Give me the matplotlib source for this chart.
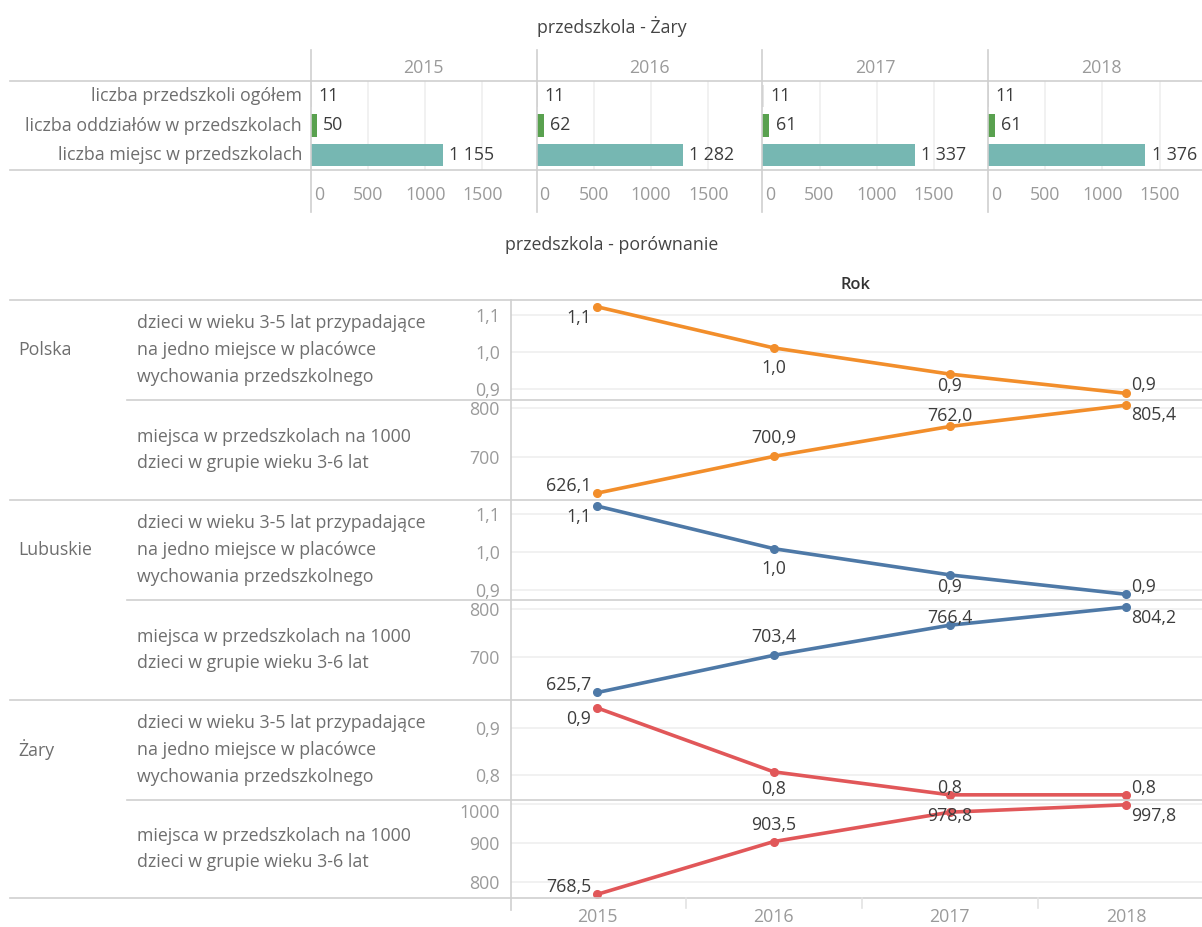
import matplotlib
matplotlib.use('Agg')
import matplotlib.pyplot as plt
from matplotlib.lines import Line2D
from matplotlib.transforms import blended_transform_factory

plt.rcParams['font.family'] = ['Open Sans', 'DejaVu Sans']

# ---- data ----
years = ['2015', '2016', '2017', '2018']

# przedszkola - Żary
bar_labels = ['liczba przedszkoli ogółem',
              'liczba oddziałów w przedszkolach',
              'liczba miejsc w przedszkolach']
przedszkola = [11, 11, 11, 11]
oddzialy = [50, 62, 61, 61]
miejsca = [1155, 1282, 1337, 1376]
bar_ticks = [0, 500, 1000, 1500]

# przedszkola - porównanie
regions = ['Polska', 'Lubuskie', 'Żary']
measure_labels = ['dzieci w wieku 3-5 lat przypadające\nna jedno miejsce w placówce\nwychowania przedszkolnego',
                  'miejsca w przedszkolach na 1000\ndzieci w grupie wieku 3-6 lat']
polska_ratio = [1.122, 1.011, 0.940, 0.888]
polska_places = [626.1, 700.9, 762.0, 805.4]
lubuskie_ratio = [1.121, 1.009, 0.940, 0.889]
lubuskie_places = [625.7, 703.4, 766.4, 804.2]
zary_ratio = [0.943, 0.807, 0.758, 0.758]
zary_places = [768.5, 903.5, 978.8, 997.8]

ratio_ticks = [[0.9, 1.0, 1.1], [0.9, 1.0, 1.1], [0.8, 0.9]]
places_ticks = [[700, 800], [700, 800], [800, 900, 1000]]

# ---- styling ----
W, H = 1202, 927
FS = 12.8
SEP = '#cfcfcf'
GRID = '#efefef'
TICK = '#9a9a9a'
LAB = '#6e6e6e'
VAL = '#3c3c3c'
bar_colors = ['#e4e4e4', '#59a14f', '#76b7b2']
line_colors = ['#f28e2b', '#4e79a7', '#e15759']


def fmt1(v):
    return f'{v:.1f}'.replace('.', ',')


def fmt_int(v):
    return f'{v:,}'.replace(',', ' ')


fig = plt.figure(figsize=(W / 100, H / 100), dpi=100)


def fx(x):
    return x / W


def fy(y):
    return 1 - y / H


def add_ax(x0, y0, x1, y1):
    return fig.add_axes([fx(x0), fy(y1), fx(x1) - fx(x0), fy(y0) - fy(y1)])


def hline(y, x0, x1, color=SEP):
    fig.add_artist(Line2D([fx(x0), fx(x1)], [fy(y), fy(y)], color=color, lw=1.2,
                          transform=fig.transFigure, zorder=5))


def vline(x, y0, y1, color=SEP):
    fig.add_artist(Line2D([fx(x), fx(x)], [fy(y0), fy(y1)], color=color, lw=1.2,
                          transform=fig.transFigure, zorder=5))


def ftext(x, y, s, **kw):
    kw.setdefault('va', 'center')
    kw.setdefault('fontsize', FS)
    fig.text(fx(x), fy(y), s, **kw)


# ================= top: przedszkola - Żary =================
ftext(612, 27, 'przedszkola - Żary', ha='center', color='#444444')

pw = 225.7
for i, yr in enumerate(years):
    x0 = 311 + i * pw
    ax = add_ax(x0, 81, x0 + pw, 170)
    vals = [przedszkola[i], oddzialy[i], miejsca[i]]
    ax.barh(range(3), vals, height=0.75, color=bar_colors, zorder=2)
    ax.set_ylim(2.5, -0.5)
    ax.set_xlim(0, 1975)
    ax.axis('off')
    for t in bar_ticks[1:]:
        ax.axvline(t, color=GRID, lw=1.2, zorder=0)
    for j, v in enumerate(vals):
        ax.annotate(fmt_int(v), (v, j), xytext=(4.5, 0), textcoords='offset points',
                    va='center', ha='left', fontsize=FS, color=VAL)
    tr = blended_transform_factory(ax.transData, ax.transAxes)
    for t in bar_ticks:
        if t == 0:
            ax.annotate('0', (0, -25 / 89), xycoords=tr, xytext=(2, 0), textcoords='offset points',
                        ha='left', va='center', fontsize=FS, color=TICK)
        else:
            ax.text(t, -25 / 89, str(t), transform=tr, ha='center', va='center',
                    fontsize=FS, color=TICK)
    ftext(x0 + pw / 2, 68, yr, ha='center', color=TICK)
    vline(x0, 50, 212)

for j, lab in enumerate(bar_labels):
    ftext(302, 96 + j * 29.7, lab, ha='right', color=LAB)
hline(81, 10, W)
hline(170, 10, W)

# ================= bottom: przedszkola - porównanie =================
ftext(612, 245, 'przedszkola - porównanie', ha='center', color='#444444')
ftext(856, 285, 'Rok', ha='center', color='#333333', fontsize=FS - 1, fontweight='semibold')

series = [polska_ratio, polska_places, lubuskie_ratio, lubuskie_places, zary_ratio, zary_places]
panes = [(300, 400), (400, 500), (500, 600), (600, 700), (700, 800), (800, 898)]
ylims = [(0.870, 1.1405), (612, 816), (0.874, 1.137), (610, 819), (0.747, 0.96), (759, 1010)]
yticks = [ratio_ticks[0], places_ticks[0], ratio_ticks[1], places_ticks[1], ratio_ticks[2], places_ticks[2]]

# label placement per point: (dx px, dy px downward, ha)
offsets = [
    [(-6, 11, 'right'), (0, 20, 'center'), (0, 12, 'center'), (5, -8, 'left')],
    [(-6, -7, 'right'), (0, -18, 'center'), (0, -10, 'center'), (5, 10, 'left')],
    [(-6, 11, 'right'), (0, 20, 'center'), (0, 12, 'center'), (5, -7, 'left')],
    [(-6, -7, 'right'), (0, -18, 'center'), (0, -7, 'center'), (5, 11, 'left')],
    [(-6, 11, 'right'), (0, 17, 'center'), (0, -7, 'center'), (5, -7, 'left')],
    [(-6, -7, 'right'), (0, -17, 'center'), (0, 4, 'center'), (5, 11, 'left')],
]

xs = list(range(len(years)))
for k, (vals, (y0, y1)) in enumerate(zip(series, panes)):
    ax = add_ax(511, y0, W, y1)
    col = line_colors[k // 2]
    ax.plot(xs, vals, color=col, lw=2.6, marker='o', ms=5.5, zorder=3)
    ax.set_xlim(-0.49, 3.43)
    ax.set_ylim(*ylims[k])
    ax.set_yticks(yticks[k])
    if k % 2 == 0:
        ax.set_yticklabels([fmt1(t) for t in yticks[k]])
    else:
        ax.set_yticklabels([str(t) for t in yticks[k]])
    ax.tick_params(axis='y', length=0, pad=8, labelcolor=TICK, labelsize=FS)
    ax.set_xticks([])
    for s in ax.spines.values():
        s.set_visible(False)
    ax.yaxis.grid(True, color=GRID, lw=1.2)
    ax.set_axisbelow(True)
    ax.patch.set_alpha(0)
    if yticks[k][-1] == 1000:
        # top tick label sits just under the pane border, as in the original
        ax.get_yticklabels()[-1].set_verticalalignment('top')
    for x, v, (dx, dy, ha) in zip(xs, vals, offsets[k]):
        ax.annotate(fmt1(v), (x, v), xytext=(dx * 0.72, -dy * 0.72), textcoords='offset points',
                    ha=ha, va='center', fontsize=FS, color=VAL, zorder=4)
    # measure label
    ftext(137, (y0 + y1) / 2, measure_labels[k % 2], ha='left', color=LAB, linespacing=1.62)

for r, reg in enumerate(regions):
    ftext(18, 350 + r * 200, reg, ha='left', color=LAB)

# separators
hline(300, 10, W)
for y in [400, 600, 800]:
    hline(y, 127, W)
for y in [500, 700, 898]:
    hline(y, 10, W)
vline(511, 300, 910)
for xb in [686, 862, 1038]:
    vline(xb, 898, 908, color='#e3e3e3')
for i, yr in enumerate(years):
    ftext(597 + i * 176.4, 917, yr, ha='center', color=TICK)

fig.savefig('out.png', dpi=100)
